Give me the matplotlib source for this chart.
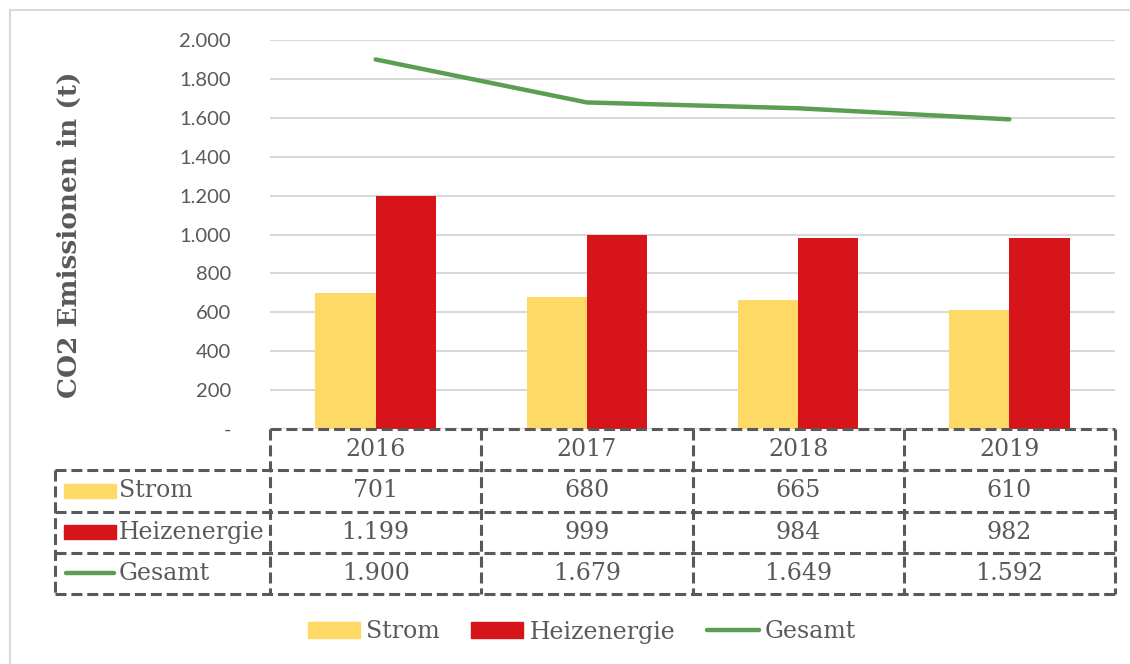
import matplotlib
matplotlib.use("Agg")
import matplotlib.pyplot as plt
from matplotlib.patches import Rectangle
from matplotlib.lines import Line2D
from matplotlib.ticker import FuncFormatter

# data
years = ["2016", "2017", "2018", "2019"]
strom = [701, 680, 665, 610]
heizenergie = [1199, 999, 984, 982]
gesamt = [1900, 1679, 1649, 1592]
series_names = ["Strom", "Heizenergie", "Gesamt"]
y_ticks = [0, 200, 400, 600, 800, 1000, 1200, 1400, 1600, 1800, 2000]

c_strom = "#FFD966"
c_heiz = "#D7141A"
c_ges = "#5A9E52"
c_text = "#595959"
c_grid = "#D9D9D9"

W, H = 1130, 664


def fx(px):
    return px / W


def fy(py):
    return 1 - py / H


def de(v):
    return f"{v:,}".replace(",", ".")


fig = plt.figure(figsize=(W / 100, H / 100), dpi=100)

# outer chart border
fig.add_artist(Rectangle((fx(10), fy(H + 20)), fx(W + 20), fy(10) - fy(H + 20),
                         transform=fig.transFigure, fill=False,
                         edgecolor=c_grid, lw=1.5))

# main plot area
ax = fig.add_axes([fx(270), fy(429), fx(1115) - fx(270), fy(40) - fy(429)])
x = list(range(len(years)))
bw = 0.285
ax.bar([i - bw / 2 for i in x], strom, width=bw, color=c_strom, zorder=2)
ax.bar([i + bw / 2 for i in x], heizenergie, width=bw, color=c_heiz, zorder=2)
ax.plot(x, gesamt, color=c_ges, lw=3.2, solid_capstyle="round", zorder=3)

ax.set_xlim(-0.5, 3.5)
ax.set_ylim(0, 2000)
ax.set_yticks(y_ticks)
ax.yaxis.set_major_formatter(FuncFormatter(lambda v, p: "-" if v == 0 else de(int(v))))
ax.tick_params(axis="y", length=0, pad=28, labelsize=14.5, labelcolor=c_text)
for lab in ax.get_yticklabels():
    lab.set_fontfamily("Lato")
ax.set_xticks([])
ax.grid(axis="y", color=c_grid, lw=1.5, zorder=0)
for s in ax.spines.values():
    s.set_visible(False)
ax.set_ylabel("CO2 Emissionen in (t)", fontsize=19, fontweight="bold",
              family="DejaVu Serif", color=c_text)
ax.yaxis.set_label_coords(-0.2225, 0.5)

# data table below the plot
cat_px = (1115 - 270) / 4
xl = -0.5 - (270 - 55) / cat_px
tab = fig.add_axes([fx(55), fy(594), fx(1115) - fx(55), fy(429) - fy(594)])
tab.set_xlim(xl, 3.5)
tab.set_ylim(4, 0)
tab.axis("off")

dash = dict(color=c_text, lw=2.2, linestyle=(0, (3.6, 1.6)), clip_on=False)
tab.plot([-0.5, 3.5], [0, 0], **dash)
for r in range(1, 5):
    tab.plot([xl, 3.5], [r, r], **dash)
for k in range(5):
    tab.plot([-0.5 + k, -0.5 + k], [0, 4], **dash)
tab.plot([xl, xl], [1, 4], **dash)

fs = 17
tfont = dict(family="DejaVu Serif", fontsize=fs, color=c_text,
             va="center", ha="center")
for i, yr in enumerate(years):
    tab.text(i, 0.5, yr, **tfont)
for r, vals in enumerate([strom, heizenergie, gesamt], start=1):
    for i, v in enumerate(vals):
        tab.text(i, r + 0.5, de(v), **tfont)

# row labels with legend keys
k0 = xl + (64 - 55) / cat_px
k1 = xl + (116 - 55) / cat_px
t0 = xl + (119 - 55) / cat_px
tab.add_patch(Rectangle((k0, 1.33), k1 - k0, 0.34, color=c_strom, clip_on=False))
tab.add_patch(Rectangle((k0, 2.33), k1 - k0, 0.34, color=c_heiz, clip_on=False))
tab.plot([k0 + 0.01, k1 - 0.01], [3.5, 3.5], color=c_ges, lw=3.2,
         solid_capstyle="round", clip_on=False)
for r, name in enumerate(series_names, start=1):
    tab.text(t0, r + 0.5, name, family="DejaVu Serif", fontsize=fs,
             color=c_text, va="center", ha="left")

# legend
handles = [Rectangle((0, 0), 1, 1, color=c_strom),
           Rectangle((0, 0), 1, 1, color=c_heiz),
           Line2D([], [], color=c_ges, lw=3.2, solid_capstyle="round")]
fig.legend(handles, series_names, loc="center", bbox_to_anchor=(fx(582), fy(632)),
           ncol=3, frameon=False, handlelength=2.2, handleheight=0.65,
           handletextpad=0.25, columnspacing=1.35,
           prop={"family": "DejaVu Serif", "size": fs}, labelcolor=c_text)

fig.savefig("out.png", dpi=100)
